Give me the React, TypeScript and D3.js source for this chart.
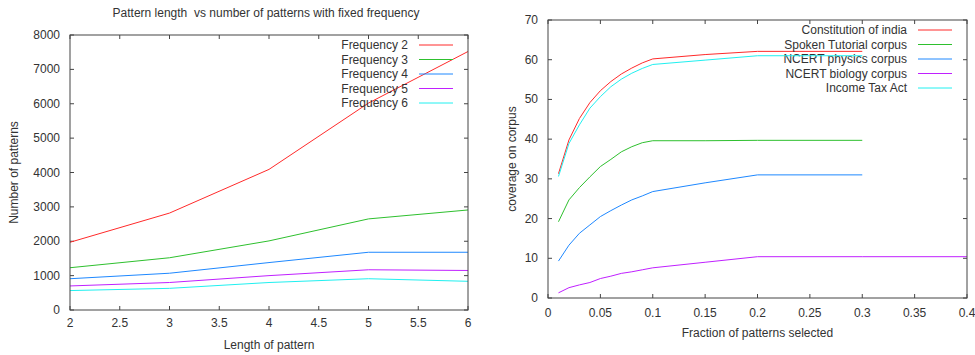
import { useEffect, useRef } from 'react'
import * as d3 from 'd3'

// ---- Left chart: pattern length vs number of patterns ----
const lengths = [2, 3, 4, 5, 6]
const freq2 = [1970, 2820, 4090, 6020, 7520]
const freq3 = [1230, 1520, 2010, 2650, 2910]
const freq4 = [910, 1070, 1380, 1680, 1680]
const freq5 = [700, 800, 1000, 1170, 1150]
const freq6 = [565, 630, 800, 910, 835]
const leftLabels = ['Frequency 2', 'Frequency 3', 'Frequency 4', 'Frequency 5', 'Frequency 6']

// ---- Right chart: coverage vs fraction of patterns ----
const fractions = [0.01, 0.02, 0.03, 0.04, 0.05, 0.06, 0.07, 0.08, 0.09, 0.1, 0.15, 0.2, 0.3]
const fractionsLong = [...fractions, 0.4]
const constitution = [31.3, 39.8, 45.2, 49.2, 52.2, 54.5, 56.4, 57.9, 59.2, 60.2, 61.3, 62.1, 62.1]
const spoken = [19.2, 24.7, 27.8, 30.5, 33.1, 34.9, 36.8, 38.1, 39.1, 39.6, 39.6, 39.7, 39.7]
const physics = [9.3, 13.3, 16.3, 18.4, 20.5, 22.0, 23.4, 24.7, 25.7, 26.8, 29.0, 31.0, 31.0]
const biology = [1.3, 2.6, 3.3, 3.9, 4.9, 5.5, 6.2, 6.6, 7.1, 7.6, 9.0, 10.4, 10.4, 10.4]
const incomeTax = [30.6, 38.9, 43.6, 47.8, 50.7, 53.2, 55.1, 56.6, 57.8, 58.8, 59.9, 61.0, 61.0]
const rightLabels = [
  'Constitution of india',
  'Spoken Tutorial corpus',
  'NCERT physics corpus',
  'NCERT biology corpus',
  'Income Tax Act',
]

const COLORS = ['#ff2a2a', '#2ec02e', '#1e88ff', '#c020ff', '#20f0f0']
const FONT = '"Liberation Sans", Arial, sans-serif'
const INK = '#333'
const FRAME = '#444'

type Panel = {
  left: number
  right: number
  top: number
  bottom: number
  xDomain: [number, number]
  yDomain: [number, number]
  xTicks: number[]
  yTicks: number[]
  xFmt: (v: number) => string
  series: { xs: number[]; ys: number[]; label: string }[]
  legendRight: number
  legendTop: number
  legendStep: number
  xTitle: string
  xTitleY: number
  yTitle: string
  yTitleX: number
  xLabelY: number
}

function drawPanel(svg: d3.Selection<SVGSVGElement, unknown, null, undefined>, p: Panel) {
  const x = d3.scaleLinear().domain(p.xDomain).range([p.left, p.right])
  const y = d3.scaleLinear().domain(p.yDomain).range([p.bottom, p.top])
  const g = svg.append('g')
  const tl = 4

  // ticks, mirrored on all sides, pointing inward
  p.xTicks.forEach((t) => {
    g.append('line').attr('x1', x(t)).attr('x2', x(t)).attr('y1', p.bottom).attr('y2', p.bottom - tl)
      .attr('stroke', FRAME)
    g.append('line').attr('x1', x(t)).attr('x2', x(t)).attr('y1', p.top).attr('y2', p.top + tl)
      .attr('stroke', FRAME)
    g.append('text').attr('x', x(t)).attr('y', p.xLabelY).attr('text-anchor', 'middle')
      .attr('font-family', FONT).attr('font-size', 12).attr('fill', INK).text(p.xFmt(t))
  })
  p.yTicks.forEach((t) => {
    g.append('line').attr('x1', p.left).attr('x2', p.left + tl).attr('y1', y(t)).attr('y2', y(t))
      .attr('stroke', FRAME)
    g.append('line').attr('x1', p.right).attr('x2', p.right - tl).attr('y1', y(t)).attr('y2', y(t))
      .attr('stroke', FRAME)
    g.append('text').attr('x', p.left - 10).attr('y', y(t) + 4).attr('text-anchor', 'end')
      .attr('font-family', FONT).attr('font-size', 12).attr('fill', INK).text(String(t))
  })

  const line = d3.line<[number, number]>().x((d) => x(d[0])).y((d) => y(d[1]))
  p.series.forEach((s, i) => {
    const pts = s.xs.map((v, j) => [v, s.ys[j]] as [number, number])
    g.append('path').attr('d', line(pts)).attr('fill', 'none').attr('stroke', COLORS[i])
      .attr('stroke-width', 1)
    const ly = p.legendTop + i * p.legendStep
    g.append('text').attr('x', p.legendRight).attr('y', ly + 4).attr('text-anchor', 'end')
      .attr('font-family', FONT).attr('font-size', 12).attr('fill', INK).text(s.label)
    g.append('line').attr('x1', p.legendRight + 11).attr('x2', p.legendRight + 45)
      .attr('y1', ly).attr('y2', ly).attr('stroke', COLORS[i]).attr('stroke-width', 1)
  })

  g.append('rect').attr('x', p.left).attr('y', p.top).attr('width', p.right - p.left)
    .attr('height', p.bottom - p.top).attr('fill', 'none').attr('stroke', FRAME)

  g.append('text').attr('x', (p.left + p.right) / 2).attr('y', p.xTitleY).attr('text-anchor', 'middle')
    .attr('font-family', FONT).attr('font-size', 12).attr('fill', INK).text(p.xTitle)
  g.append('text')
    .attr('transform', `translate(${p.yTitleX},${(p.top + p.bottom) / 2}) rotate(-90)`)
    .attr('text-anchor', 'middle').attr('dominant-baseline', 'middle')
    .attr('font-family', FONT).attr('font-size', 12).attr('fill', INK).text(p.yTitle)
}

export default function App() {
  const ref = useRef<SVGSVGElement>(null)

  useEffect(() => {
    if (!ref.current) return
    const svg = d3.select(ref.current)
    svg.selectAll('*').remove()
    svg.append('rect').attr('width', 975).attr('height', 355).attr('fill', '#fff')

    drawPanel(svg, {
      left: 70, right: 468, top: 35, bottom: 310,
      xDomain: [2, 6], yDomain: [0, 8000],
      xTicks: d3.range(2, 6.01, 0.5), yTicks: d3.range(0, 8001, 1000),
      xFmt: (v) => String(+v.toFixed(1)),
      series: [freq2, freq3, freq4, freq5, freq6].map((ys, i) => ({ xs: lengths, ys, label: leftLabels[i] })),
      legendRight: 408, legendTop: 45, legendStep: 14.5,
      xTitle: 'Length of pattern', xTitleY: 349,
      yTitle: 'Number of patterns', yTitleX: 15,
      xLabelY: 327,
    })

    drawPanel(svg, {
      left: 548, right: 967, top: 20, bottom: 298,
      xDomain: [0, 0.4], yDomain: [0, 70],
      xTicks: d3.range(0, 0.401, 0.05), yTicks: d3.range(0, 71, 10),
      xFmt: (v) => String(+v.toFixed(2)),
      series: [
        { xs: fractions, ys: constitution, label: rightLabels[0] },
        { xs: fractions, ys: spoken, label: rightLabels[1] },
        { xs: fractions, ys: physics, label: rightLabels[2] },
        { xs: fractionsLong, ys: biology, label: rightLabels[3] },
        { xs: fractions, ys: incomeTax, label: rightLabels[4] },
      ],
      legendRight: 907, legendTop: 30, legendStep: 14.5,
      xTitle: 'Fraction of patterns selected', xTitleY: 337,
      yTitle: 'coverage on corpus', yTitleX: 513,
      xLabelY: 317,
    })

    // chart title (left panel)
    svg.append('text').attr('x', 266).attr('y', 17).attr('text-anchor', 'middle')
      .attr('font-family', FONT).attr('font-size', 12).attr('fill', INK)
      .attr('xml:space', 'preserve').style('white-space', 'pre')
      .text('Pattern length  vs number of patterns with fixed frequency')
  }, [])

  return (
    <svg ref={ref} width={975} height={355}
      style={{ position: 'absolute', left: 0, top: 0, display: 'block' }} />
  )
}
